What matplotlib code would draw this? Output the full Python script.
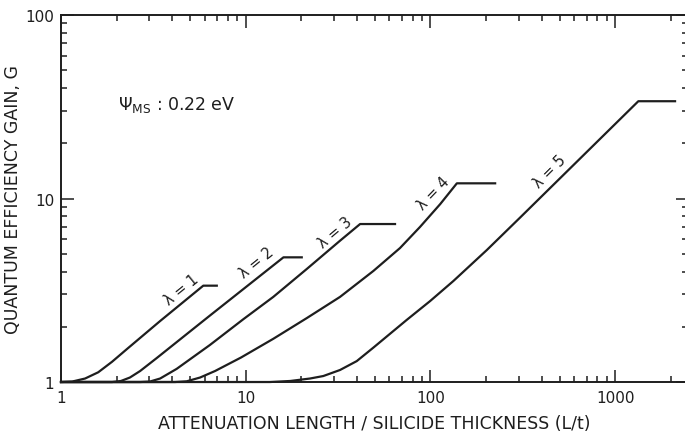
import matplotlib
matplotlib.use("Agg")
import matplotlib.pyplot as plt
from matplotlib.ticker import LogLocator, NullFormatter

# L/t (attenuation length / silicide thickness) and gain G for each lambda
lam1_x = [1.0, 1.15, 1.35, 1.59, 1.89, 2.27, 3.44, 5.89, 6.97]
lam1_g = [1.0, 1.006, 1.045, 1.13, 1.29, 1.51, 2.15, 3.35, 3.35]

lam2_x = [1.0, 1.89, 2.11, 2.36, 2.68, 3.30, 6.39, 16.0, 20.1]
lam2_g = [1.0, 1.0, 1.013, 1.058, 1.148, 1.352, 2.30, 4.78, 4.78]

lam3_x = [1.0, 2.68, 3.03, 3.44, 4.23, 5.20, 6.39, 9.71, 14.1, 21.4, 32.4, 41.6, 64.3]
lam3_g = [1.0, 1.0, 1.006, 1.045, 1.18, 1.37, 1.59, 2.20, 2.91, 4.13, 5.89, 7.26, 7.26]

lam4_x = [1.0, 4.14, 4.79, 5.66, 6.82, 9.43, 14.1, 21.4, 32.4, 49.1, 68.4, 87.8, 113, 139, 224]
lam4_g = [1.0, 1.0, 1.009, 1.058, 1.148, 1.36, 1.72, 2.23, 2.91, 4.03, 5.37, 7.0, 9.33, 12.1, 12.1]

lam5_x = [1.0, 13.5, 17.4, 22.3, 26.3, 32.4, 39.9, 49.1, 74.4, 99.5, 133, 202, 306, 1335, 2110]
lam5_g = [1.0, 1.0, 1.013, 1.045, 1.078, 1.163, 1.30, 1.54, 2.18, 2.76, 3.55, 5.24, 7.88, 33.9, 33.9]

curves = [(lam1_x, lam1_g), (lam2_x, lam2_g), (lam3_x, lam3_g),
          (lam4_x, lam4_g), (lam5_x, lam5_g)]

# curve labels: text, anchor (x, G), angle
curve_labels = [("λ = 1", 4.5, 3.21, 39),
                ("λ = 2", 11.5, 4.49, 39),
                ("λ = 3", 30.4, 6.54, 40),
                ("λ = 4", 104, 10.8, 46),
                ("λ = 5", 444, 14.2, 45)]

x_ticks = [1, 10, 100, 1000]
x_ticklabels = ["1", "10", "100", "1000"]
y_ticks = [1, 10, 100]
y_ticklabels = ["1", "10", "100"]

ink = "#1e1e1e"

fig = plt.figure(figsize=(6.85, 4.35), dpi=100)
ax = fig.add_axes([0.0891, 0.1195, 0.9153, 0.8437])
ax.set_xscale("log")
ax.set_yscale("log")
ax.set_xlim(1, 2480)
ax.set_ylim(1, 100)

for xs, gs in curves:
    ax.plot(xs, gs, color=ink, lw=1.6, solid_joinstyle="round", clip_on=False, zorder=3)

for txt, lx, ly, ang in curve_labels:
    ax.text(lx, ly, txt, rotation=ang, rotation_mode="anchor", ha="center", va="center",
            fontsize=10.5, color=ink)

ax.text(0.091, 0.757, r"$\Psi_{\mathrm{MS}}$ : 0.22 eV", transform=ax.transAxes,
        fontsize=12.5, color=ink, va="center", ha="left")

ax.set_xticks(x_ticks)
ax.set_xticklabels(x_ticklabels)
ax.set_yticks(y_ticks)
ax.set_yticklabels(y_ticklabels)
ax.xaxis.set_minor_locator(LogLocator(base=10, subs=range(2, 10), numticks=20))
ax.yaxis.set_minor_locator(LogLocator(base=10, subs=range(2, 10), numticks=20))
ax.xaxis.set_minor_formatter(NullFormatter())
ax.yaxis.set_minor_formatter(NullFormatter())

ax.tick_params(which="both", direction="in", top=True, right=True, colors=ink,
               labelsize=11, width=1.1)
ax.tick_params(which="major", length=9)
ax.tick_params(which="minor", length=4.5)
ax.tick_params(axis="x", pad=6)
ax.tick_params(axis="y", pad=5)

for sp in ax.spines.values():
    sp.set_linewidth(1.4)
    sp.set_color(ink)

ax.set_xlabel("ATTENUATION LENGTH / SILICIDE THICKNESS (L/t)", fontsize=12.5, color=ink,
              labelpad=6)
ax.set_ylabel("QUANTUM EFFICIENCY GAIN, G", fontsize=12.5, color=ink, labelpad=2)

fig.savefig("out.png", dpi=100)
